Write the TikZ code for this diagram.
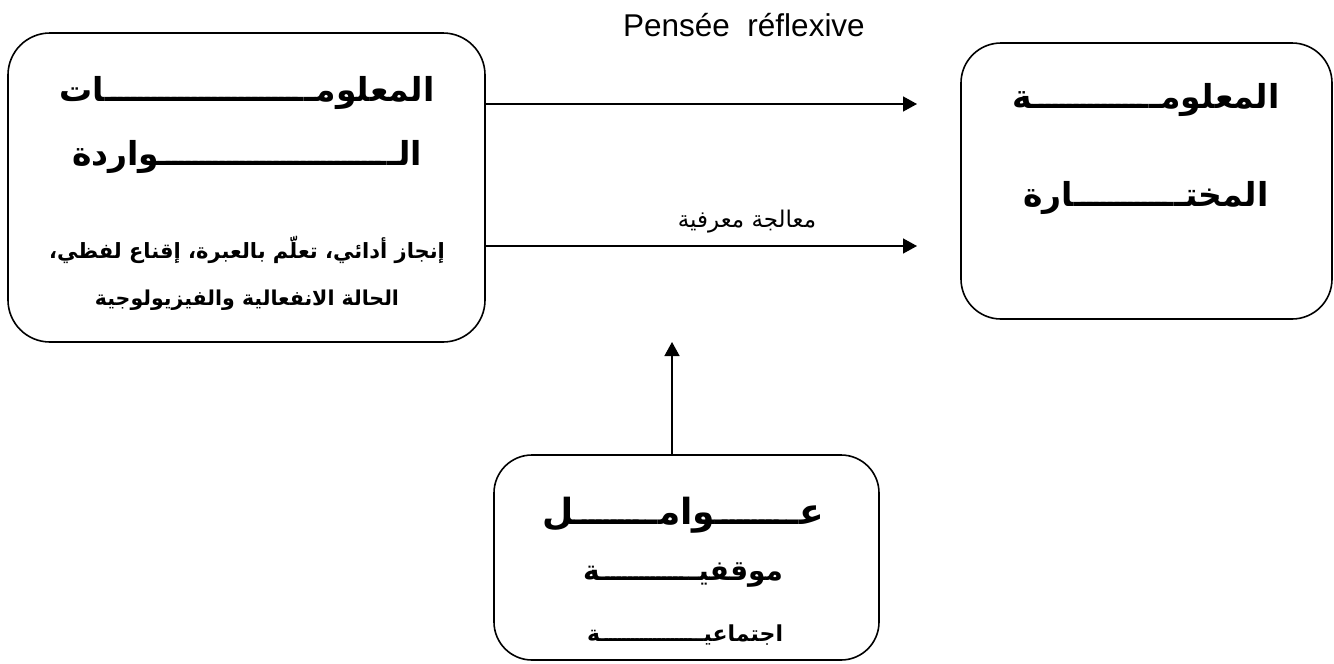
\documentclass[tikz,border=0pt]{standalone}
\usepackage{fontspec}
\usetikzlibrary{arrows.meta}
\setmainfont{Liberation Sans}
\newfontfamily\arabicfont[Script=Arabic]{DejaVu Sans}
\TeXXeTstate=1

% stretchable kashida: overlapping tatweel glyphs filling the free space
\newcommand\kash{\xleaders\hbox to 0.2em{ـ\hss}\hfill}
% an Arabic line stretched to a given width
\newcommand\arline[2]{\hbox to #1{\beginR #2\endR}}

\tikzset{
  panel/.style={draw, line width=1.6pt, rounded corners=42pt, inner sep=0pt},
  flow/.style={line width=1.5pt, -{Triangle[length=14pt,width=15pt]}},
  ar/.style={inner sep=0pt, anchor=center},
}

\begin{document}
\begin{tikzpicture}[x=1pt, y=-1pt]
\useasboundingbox (0,0) rectangle (1334,664);

% boxes
\node[panel, minimum width=477pt, minimum height=309pt] (src) at (246.5,187.5) {};
\node[panel, minimum width=371pt, minimum height=276pt, rounded corners=40pt] (dst) at (1146.5,181) {};
\node[panel, minimum width=385pt, minimum height=205pt, rounded corners=38pt] (fac) at (686.5,557.5) {};

% texts of the left box
\node[ar, font=\arabicfont\bfseries\fontsize{33}{38}\selectfont] (s1) at (247,93) {\arline{375pt}{المعلومـ\kash ـات}};
\node[ar, font=\arabicfont\bfseries\fontsize{33}{38}\selectfont] (s2) at (247,157) {\arline{350pt}{الـ\kash ـواردة}};
\node[ar, font=\arabicfont\bfseries\fontsize{21}{25}\selectfont] (s3) at (247,250) {\beginR إنجاز أدائي، تعلّم بالعبرة، إقناع لفظي،\endR};
\node[ar, font=\arabicfont\bfseries\fontsize{20.5}{25}\selectfont] (s4) at (247,300) {\beginR الحالة الانفعالية والفيزيولوجية\endR};

% texts of the right box
\node[ar, font=\arabicfont\bfseries\fontsize{33}{38}\selectfont] (d1) at (1146,100) {\arline{267pt}{المعلومـ\kash ـة}};
\node[ar, font=\arabicfont\bfseries\fontsize{33}{38}\selectfont] (d2) at (1146,198) {\arline{245pt}{المختـ\kash ـارة}};

% texts of the bottom box
\node[ar, font=\arabicfont\bfseries\fontsize{36}{40}\selectfont] (f1) at (683,515) {\arline{281pt}{عـ\kash ـوامـ\kash ـل}};
\node[ar, font=\arabicfont\bfseries\fontsize{28}{32}\selectfont] (f2) at (683,575) {\arline{200pt}{موقفيـ\kash ـة}};
\node[ar, font=\arabicfont\bfseries\fontsize{22}{26}\selectfont] (f3) at (685,635) {\arline{196pt}{اجتماعيـ\kash ـة}};

% arrow labels
\node[inner sep=0pt, font=\fontsize{31.5}{36}\selectfont] (lbl1) at (744,25) {Pensée\ \ réflexive};
\node[inner sep=0pt, font=\arabicfont\fontsize{23}{27}\selectfont] (lbl2) at (747,222) {\beginR معالجة معرفية\endR};

% arrow end points
\coordinate (e1) at (917,104);
\coordinate (e2) at (917,246);
\coordinate (e3) at (672,342);

\draw[flow] (src.east |- e1) -- (e1);
\draw[flow] (src.east |- e2) -- (e2);
\draw[flow] (fac.north -| e3) -- (e3);
\end{tikzpicture}
\end{document}
